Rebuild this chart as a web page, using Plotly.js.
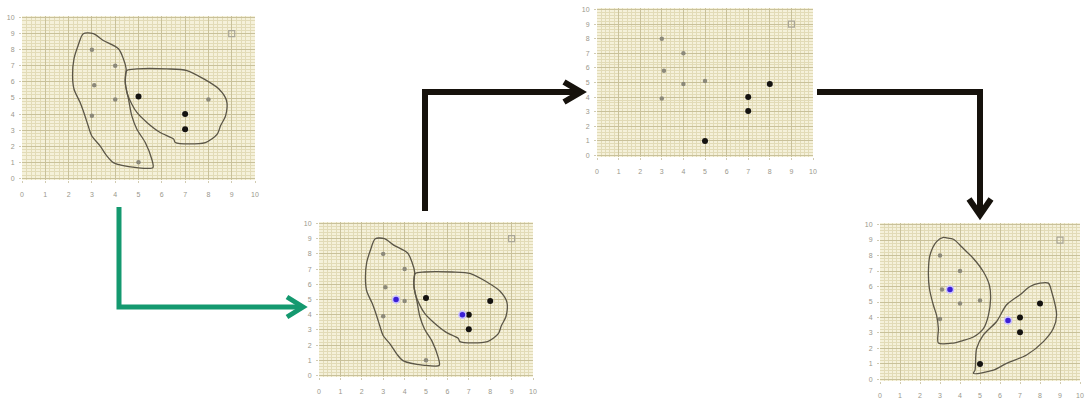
<!DOCTYPE html>
<html>
<head>
<meta charset="utf-8">
<script src="https://cdn.plot.ly/plotly-3.0.1.min.js"></script>
<style>
  html, body { margin: 0; padding: 0; background: #ffffff; }
  #chart { width: 1089px; height: 401px; }
</style>
</head>
<body>
<div id="chart"></div>
<script>
// ---- observations (same ten points in every step) ----
const ptX = [3, 4, 3.1, 4, 3, 5, 5, 7, 7, 8];
const ptY = [8, 7, 5.8, 4.9, 3.9, 5.1, 1, 4, 3.05, 4.9];

// the odd point out, drawn as an open square
const outlierX = [9];
const outlierY = [9];

// colour class of each observation per step: 0 = grey, 1 = black
const step1Class = [0, 0, 0, 0, 0, 1, 0, 1, 1, 0];
const step2Class = [0, 0, 0, 0, 0, 1, 0, 1, 1, 1];
const step3Class = [0, 0, 0, 0, 0, 0, 1, 1, 1, 1];
const step4Class = [0, 0, 0, 0, 0, 0, 1, 1, 1, 1];

// cluster centres
const step2CentreX = [3.6, 6.7];
const step2CentreY = [5.0, 4.0];
const step4CentreX = [3.5, 6.4];
const step4CentreY = [5.8, 3.8];

// cluster outlines, steps 1 and 2
const blobAX = [2.63, 3.06, 3.49, 4.14, 4.35, 4.47, 4.43, 4.57, 4.71, 4.93, 5.29, 5.57, 5.62, 4.93, 3.92, 3.64, 3.35, 2.99, 2.84, 2.70, 2.49, 2.23, 2.17, 2.23, 2.41, 2.63];
const blobAY = [9.0, 9.0, 8.58, 8.06, 7.44, 6.81, 5.98, 4.94, 3.90, 3.06, 2.23, 1.19, 0.67, 0.67, 0.98, 1.40, 2.02, 2.65, 3.27, 3.90, 4.73, 5.56, 6.40, 7.44, 8.27, 9.0];
const blobBX = [4.50, 4.93, 6.22, 7.08, 7.80, 8.45, 8.78, 8.74, 8.52, 8.38, 7.87, 6.58, 6.51, 5.93, 5.36, 4.93, 4.71, 4.50, 4.43, 4.50];
const blobBY = [6.71, 6.81, 6.81, 6.71, 6.19, 5.56, 4.83, 3.90, 3.27, 2.75, 2.23, 2.23, 2.44, 2.85, 3.48, 4.10, 4.63, 5.35, 6.19, 6.71];

// cluster outlines, step 4
const blobCX = [3.17, 2.83, 2.5, 2.42, 2.47, 2.67, 2.83, 2.92, 2.92, 3.67, 4.17, 4.67, 5.17, 5.42, 5.53, 5.47, 5.17, 4.67, 4.17, 3.67, 3.33, 3.17];
const blobCY = [9.17, 8.9, 8.03, 6.95, 5.87, 4.79, 4.14, 3.28, 2.35, 2.35, 2.52, 2.74, 3.28, 4.14, 5.22, 6.08, 6.95, 7.81, 8.45, 9.05, 9.14, 9.17];
const blobDX = [8.0, 8.42, 8.58, 8.83, 8.67, 8.17, 7.33, 6.33, 5.67, 4.67, 4.75, 4.83, 5.17, 5.83, 6.33, 7.0, 7.5, 8.0];
const blobDY = [6.22, 6.22, 5.68, 4.16, 3.3, 2.44, 1.58, 1.04, 0.6, 0.39, 0.6, 2.0, 2.87, 3.74, 4.82, 5.47, 6.0, 6.22];

const axisTicks = [0, 1, 2, 3, 4, 5, 6, 7, 8, 9, 10];

// ---- styling ----
const W = 1089, H = 401;
const GREY = '#8c897a', BLACK = '#141210', BLUE = '#3b1fd6';
const OUTLINE = '#5b5647';

function pick(arr, cls, k) { return arr.filter((_, i) => cls[i] === k); }

function pointsFor(n, cls) {
  const xa = 'x' + (n === 1 ? '' : n), ya = 'y' + (n === 1 ? '' : n);
  return [
    { x: pick(ptX, cls, 0), y: pick(ptY, cls, 0), xaxis: xa, yaxis: ya, type: 'scatter', mode: 'markers',
      marker: { color: GREY, size: 4.5 }, hoverinfo: 'x+y' },
    { x: pick(ptX, cls, 1), y: pick(ptY, cls, 1), xaxis: xa, yaxis: ya, type: 'scatter', mode: 'markers',
      marker: { color: BLACK, size: 6 }, hoverinfo: 'x+y' },
    { x: outlierX, y: outlierY, xaxis: xa, yaxis: ya, type: 'scatter', mode: 'markers',
      marker: { symbol: 'square-open', color: '#aaa697', size: 6, line: { width: 1.2 } }, hoverinfo: 'x+y' }
  ];
}
function outline(n, xs, ys) {
  const xa = 'x' + (n === 1 ? '' : n), ya = 'y' + (n === 1 ? '' : n);
  return { x: xs, y: ys, xaxis: xa, yaxis: ya, type: 'scatter', mode: 'lines',
    line: { color: OUTLINE, width: 1.3, shape: 'spline', smoothing: 0.8 }, hoverinfo: 'skip' };
}
function centres(n, xs, ys) {
  const xa = 'x' + (n === 1 ? '' : n), ya = 'y' + (n === 1 ? '' : n);
  return { x: xs, y: ys, xaxis: xa, yaxis: ya, type: 'scatter', mode: 'markers',
    marker: { color: BLUE, size: 7, line: { color: '#c9c0ff', width: 1.5 } }, hoverinfo: 'x+y' };
}

const traces = [
  ...pointsFor(1, step1Class), outline(1, blobAX, blobAY), outline(1, blobBX, blobBY),
  ...pointsFor(2, step2Class), outline(2, blobAX, blobAY), outline(2, blobBX, blobBY), centres(2, step2CentreX, step2CentreY),
  ...pointsFor(3, step3Class),
  ...pointsFor(4, step4Class), outline(4, blobCX, blobCY), outline(4, blobDX, blobDY), centres(4, step4CentreX, step4CentreY)
];

// pixel box -> paper domain
const dx = (l, r) => [l / W, r / W];
const dy = (t, b) => [1 - b / H, 1 - t / H];

function axisPair(xd, yd) {
  const common = {
    range: [0, 10], tickvals: axisTicks, ticktext: axisTicks.map(String),
    showgrid: true, gridcolor: '#c9c19a', gridwidth: 1,
    minor: { dtick: 0.2, showgrid: true, gridcolor: '#e2dbb7', gridwidth: 1 },
    zeroline: false, showline: false, ticks: 'outside', ticklen: 2, tickcolor: '#d2ccb2',
    tickfont: { family: 'Liberation Sans, Arial, sans-serif', size: 7, color: '#9a978c' },
    fixedrange: true
  };
  return [
    Object.assign({}, common, { domain: xd, ticklabelstandoff: 6 }),
    Object.assign({}, common, { domain: yd, range: [-0.1, 10.1], ticklabelstandoff: 3 })
  ];
}

const layout = {
  width: W, height: H,
  margin: { l: 0, r: 0, t: 0, b: 0 },
  paper_bgcolor: '#ffffff',
  plot_bgcolor: '#f5f1da',
  showlegend: false,
  shapes: []
};

const boxes = [
  [dx(22, 255), dy(16, 180)],
  [dx(319, 533), dy(222, 377)],
  [dx(597, 813), dy(8, 157)],
  [dx(880, 1080), dy(223, 381)]
];
boxes.forEach((b, i) => {
  const n = i + 1, s = n === 1 ? '' : n;
  const [xa, ya] = axisPair(b[0], b[1]);
  xa.anchor = 'y' + s; ya.anchor = 'x' + s;
  layout['xaxis' + s] = xa;
  layout['yaxis' + s] = ya;
});

// connector arrows between the steps (pixel coordinates converted to paper)
function P(px, py) { return (px / W).toFixed(5) + ',' + (1 - py / H).toFixed(5); }
function arrow(points, head, color, width) {
  const body = 'M' + points.map(p => P(p[0], p[1])).join(' L');
  const tip = 'M' + head.map(p => P(p[0], p[1])).join(' L');
  layout.shapes.push({ type: 'path', xref: 'paper', yref: 'paper', path: body,
    line: { color: color, width: width }, layer: 'above' });
  layout.shapes.push({ type: 'path', xref: 'paper', yref: 'paper', path: tip,
    line: { color: color, width: width }, layer: 'above' });
}
arrow([[119, 207], [119, 307], [302, 307]], [[287, 297], [303, 307], [287, 317]], '#14996f', 5);
arrow([[425, 211], [425, 92], [580, 92]], [[564, 82], [581, 92], [564, 102]], '#16120c', 6);
arrow([[817, 92], [980, 92], [980, 214]], [[969, 199], [980, 215], [991, 199]], '#16120c', 6);

Plotly.newPlot('chart', traces, layout, { displayModeBar: false, staticPlot: true });
</script>
</body>
</html>
